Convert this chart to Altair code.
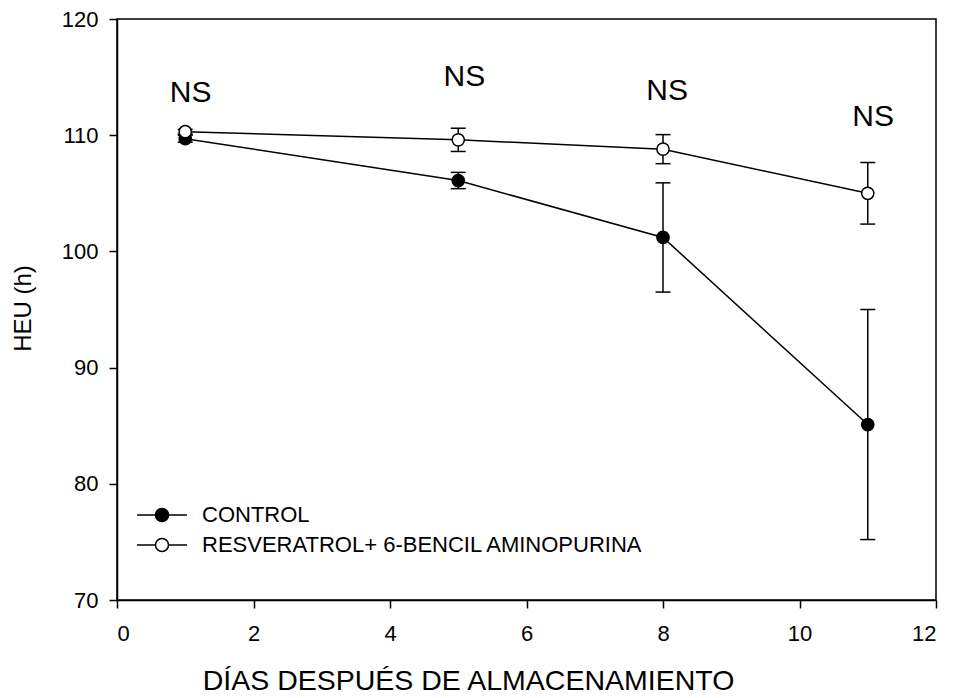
import altair as alt
import pandas as pd

# ---- data ----
days = [1, 5, 8, 11]
control_mean = [109.7, 106.1, 101.2, 85.1]
control_err = [0.3, 0.7, 4.7, 9.9]
resv_mean = [110.3, 109.6, 108.8, 105.0]
resv_err = [0.2, 1.0, 1.25, 2.65]
series_names = ["CONTROL", "RESVERATROL+ 6-BENCIL AMINOPURINA"]
series_fill = ["black", "white"]

ns_x = [1.08, 5.09, 8.06, 11.08]
ns_y = [112.9, 114.2, 113.0, 110.8]
ns_text = ["NS", "NS", "NS", "NS"]

x_ticks = [0, 2, 4, 6, 8, 10, 12]
y_ticks = [70, 80, 90, 100, 110, 120]

FONT = "Liberation Sans"

rows = []
for name, means, errs in zip(series_names, [control_mean, resv_mean], [control_err, resv_err]):
    for d, m, e in zip(days, means, errs):
        rows.append({"day": d, "heu": m, "lo": m - e, "hi": m + e, "series": name})
df = pd.DataFrame(rows)
ns_df = pd.DataFrame({"day": ns_x, "heu": ns_y, "txt": ns_text})

xscale = alt.Scale(domain=[0, 12], nice=False)
yscale = alt.Scale(domain=[70, 120], nice=False, zero=False)

xaxis = alt.Axis(values=x_ticks, labelPadding=15, labelFontSize=22, titleFontSize=28.5,
                 titleX=351, titleY=89, titleBaseline="alphabetic", titleAlign="center")
yaxis = alt.Axis(values=y_ticks, labelPadding=11, labelFontSize=22, titleFontSize=24,
                 titleX=-87, titleY=289, titleBaseline="alphabetic", titleAlign="center",
                 titleAngle=-90)

XT = "DÍAS DESPUÉS DE ALMACENAMIENTO"
YT = "HEU (h)"


def X(field="day"):
    return alt.X(f"{field}:Q", scale=xscale, axis=xaxis, title=XT)


def Y(field):
    return alt.Y(f"{field}:Q", scale=yscale, axis=yaxis, title=YT)


base = alt.Chart(df)

lines = base.mark_line(color="black", strokeWidth=1.5).encode(
    x=X(), y=Y("heu"), detail="series:N"
)
rules = base.mark_rule(color="black", strokeWidth=1.5).encode(
    x=X(), y=Y("lo"), y2="hi:Q"
)
cap_hi = base.mark_tick(orient="horizontal", size=15, thickness=1.5, color="black", opacity=1).encode(
    x=X(), y=Y("hi")
)
cap_lo = base.mark_tick(orient="horizontal", size=15, thickness=1.5, color="black", opacity=1).encode(
    x=X(), y=Y("lo")
)

SYMBOL = "M-3.85,0H-1M1,0H3.85M-1,0A1,1 0 1,0 1,0A1,1 0 1,0 -1,0Z"

points = base.mark_point(filled=True, shape="circle", size=150, stroke="black",
                         strokeWidth=1.5, opacity=1).encode(
    x=X(), y=Y("heu"),
    fill=alt.Fill("series:N",
                  scale=alt.Scale(domain=series_names, range=series_fill),
                  legend=alt.Legend(title=None, orient="none", legendX=34, legendY=485,
                                    symbolType=SYMBOL, symbolSize=169,
                                    symbolStrokeColor="black", symbolStrokeWidth=1.5,
                                    labelFontSize=22, labelFont=FONT, labelColor="black",
                                    labelOffset=29, rowPadding=8, padding=0,
                                    labelLimit=700))
)

ns = alt.Chart(ns_df).mark_text(fontSize=30, font=FONT, color="black",
                                align="center", baseline="alphabetic").encode(
    x=X(), y=Y("heu"), text="txt:N"
)

chart = alt.layer(lines, rules, cap_hi, cap_lo, points, ns).properties(
    width=819, height=581,
    autosize=alt.AutoSizeParams(type="none"),
    padding={"left": 109, "top": 11, "right": 10, "bottom": 96},
).configure_view(
    stroke="black", strokeWidth=1.5
).configure_axis(
    grid=False, domainColor="black", domainWidth=1.5, tickColor="black", tickWidth=1.5,
    tickSize=8, labelFont=FONT, labelColor="black",
    titleFont=FONT, titleColor="black", titleFontWeight="normal"
)

chart.save("out.html", embed_options={"renderer": "svg", "actions": False})
